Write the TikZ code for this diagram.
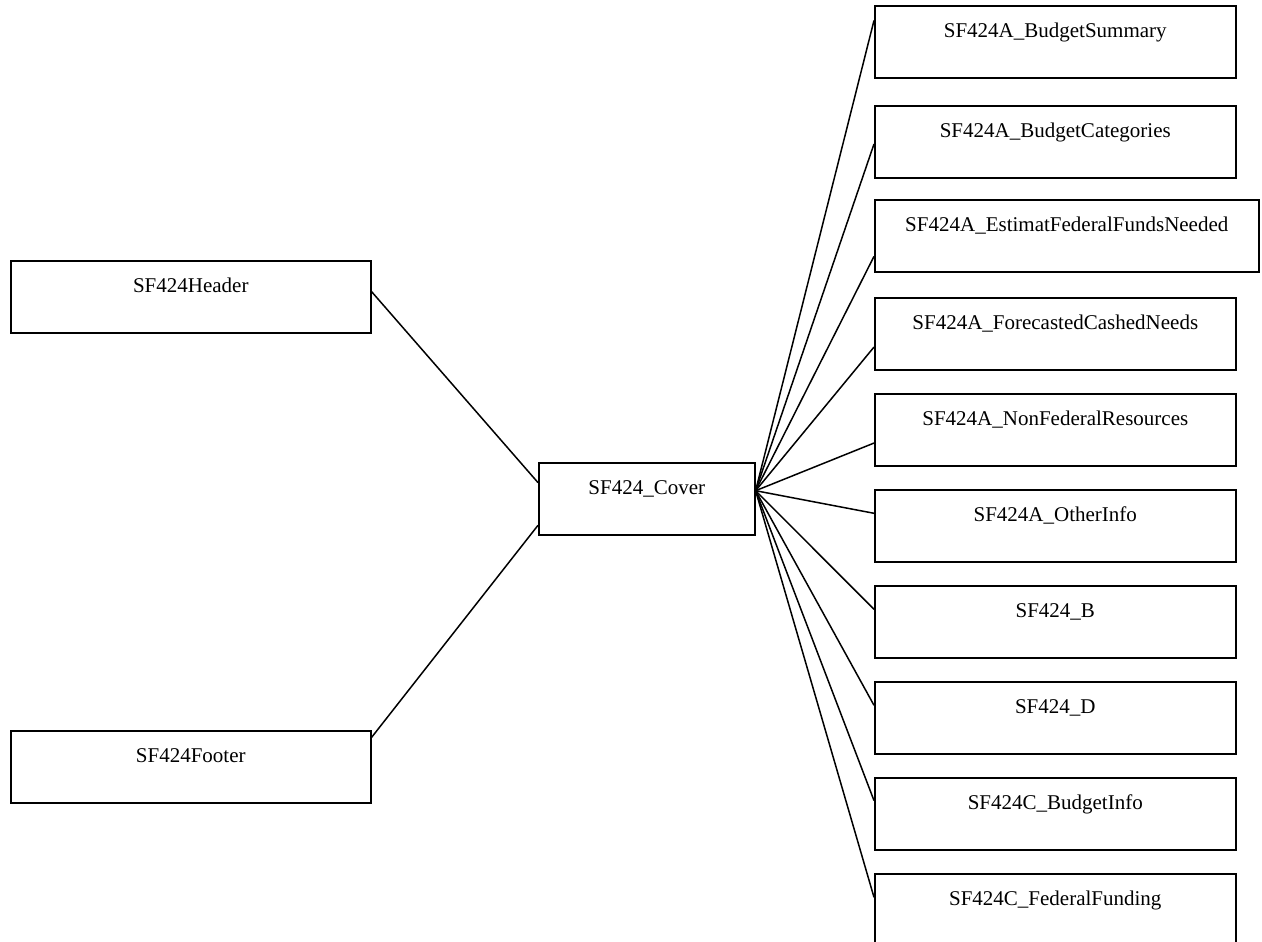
\documentclass[tikz,border=0pt]{standalone}
\usepackage{fontspec}
\setmainfont{Liberation Serif}
\usetikzlibrary{calc}
\tikzset{
  formbox/.style={draw, rectangle, line width=1.6pt, inner xsep=0pt, inner ysep=0pt,
    text height=32pt, text depth=40pt, minimum width=361pt, anchor=north west,
    font=\fontsize{21}{25}\selectfont},
  link/.style={line width=1.5pt},
}
\begin{document}
\begin{tikzpicture}[x=1pt,y=-1pt]
    \useasboundingbox (0,0) rectangle (1262,942);
    % left side
    \node[formbox, minimum width=360pt] (header) at (10,260) {SF424Header};
    \node[formbox, minimum width=360pt] (footer) at (10,730) {SF424Footer};
    \node[formbox, minimum width=216pt] (cover) at (538,462) {SF424\_Cover};
    % right column
    \node[formbox] (bsum) at (874,5) {SF424A\_BudgetSummary};
    \node[formbox] (bcat) at (874,105) {SF424A\_BudgetCategories};
    \node[formbox, minimum width=384pt] (estfed) at (874,199) {SF424A\_EstimatFederalFundsNeeded};
    \node[formbox] (fcast) at (874,297) {SF424A\_ForecastedCashedNeeds};
    \node[formbox] (nonfed) at (874,393) {SF424A\_NonFederalResources};
    \node[formbox] (oinfo) at (874,489) {SF424A\_OtherInfo};
    \node[formbox] (formb) at (874,585) {SF424\_B};
    \node[formbox] (formd) at (874,681) {SF424\_D};
    \node[formbox] (cbinfo) at (874,777) {SF424C\_BudgetInfo};
    \node[formbox] (cfund) at (874,873) {SF424C\_FederalFunding};
    %
    \coordinate (hub) at ($(cover.north east)!0.39!(cover.south east)$);
    \draw[link] ($(header.north east)!0.43!(header.south east)$)
      -- ($(cover.north west)!0.28!(cover.south west)$);
    \draw[link] ($(footer.north east)!0.1!(footer.south east)$)
      -- ($(cover.north west)!0.86!(cover.south west)$);
    %
    \draw[link] (hub) -- ($(bsum.north west)!0.21!(bsum.south west)$);
    \draw[link] (hub) -- ($(bcat.north west)!0.53!(bcat.south west)$);
    \draw[link] (hub) -- ($(estfed.north west)!0.78!(estfed.south west)$);
    \draw[link] (hub) -- ($(fcast.north west)!0.68!(fcast.south west)$);
    \draw[link] (hub) -- ($(nonfed.north west)!0.68!(nonfed.south west)$);
    \draw[link] (hub) -- ($(oinfo.north west)!0.33!(oinfo.south west)$);
    \draw[link] (hub) -- ($(formb.north west)!0.33!(formb.south west)$);
    \draw[link] (hub) -- ($(formd.north west)!0.33!(formd.south west)$);
    \draw[link] (hub) -- ($(cbinfo.north west)!0.32!(cbinfo.south west)$);
    \draw[link] (hub) -- ($(cfund.north west)!0.33!(cfund.south west)$);
\end{tikzpicture}
\end{document}
